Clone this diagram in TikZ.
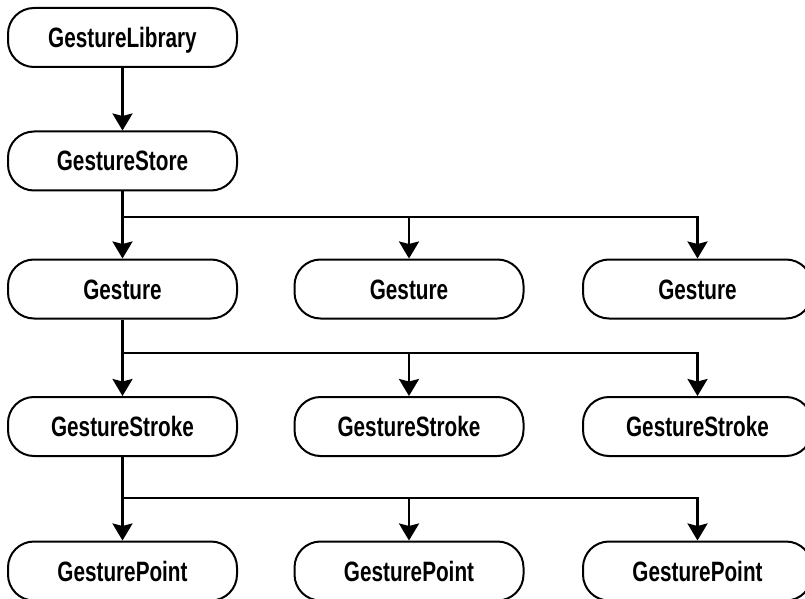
\documentclass[tikz,border=0pt]{standalone}
\usepackage{fontspec}
\setmainfont{Liberation Sans}[FakeStretch=0.74]
\usetikzlibrary{arrows.meta}
\begin{document}
\begin{tikzpicture}[x=1pt,y=1pt,
  pill/.style={draw=black, line width=2pt, rounded corners=26pt, fill=white,
    minimum width=229pt, minimum height=59pt, inner sep=0pt,
    text height=20pt, text depth=0pt,
    font=\fontsize{28}{32}\selectfont\bfseries},
  link/.style={line width=2.6pt, -{Stealth[length=17pt,width=20pt,inset=2.5pt]}}]
\useasboundingbox (0,0) rectangle (805,598);
\clip (0,0) rectangle (805,598);
% rows (y = 598 - pixel row)
\node[pill] (lib)   at (122.5,560.5) {GestureLibrary};
\node[pill] (store) at (122.5,437)   {GestureStore};
\node[pill] (g1) at (122.5,309) {Gesture};
\node[pill] (g2) at (409,309)   {Gesture};
\node[pill] (g3) at (697.5,309) {Gesture};
\node[pill] (s1) at (122.5,171.5) {GestureStroke};
\node[pill] (s2) at (409,171.5)   {GestureStroke};
\node[pill] (s3) at (697.5,171.5) {GestureStroke};
\node[pill] (p1) at (122.5,27) {GesturePoint};
\node[pill] (p2) at (409,27)   {GesturePoint};
\node[pill] (p3) at (697.5,27) {GesturePoint};
% junctions
\coordinate (j1) at (122.5,381);
\coordinate (j2) at (122.5,245);
\coordinate (j3) at (122.5,100);
% connectors
\draw[link] (lib.south) -- (store.north);
\draw[link] (store.south) -- (g1.north);
\draw[link] (j1) -| (g2.north);
\draw[link] (j1) -| (g3.north);
\draw[link] (g1.south) -- (s1.north);
\draw[link] (j2) -| (s2.north);
\draw[link] (j2) -| (s3.north);
\draw[link] (s1.south) -- (p1.north);
\draw[link] (j3) -| (p2.north);
\draw[link] (j3) -| (p3.north);
\end{tikzpicture}
\end{document}
